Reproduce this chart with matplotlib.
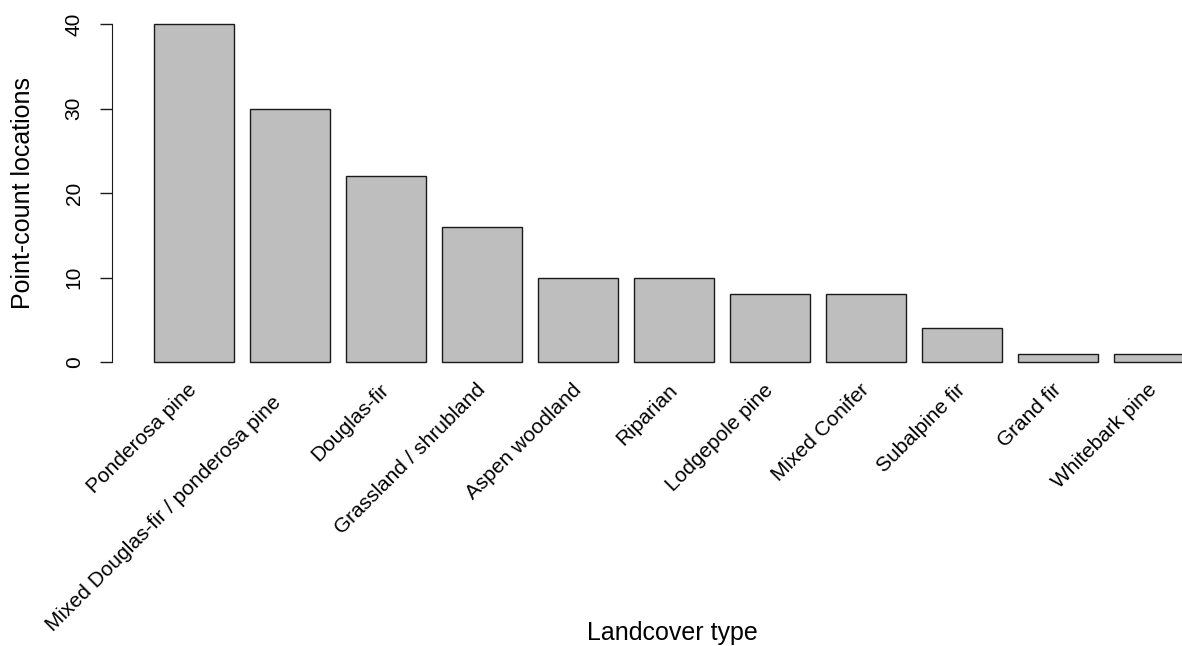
import matplotlib
matplotlib.use('Agg')
import matplotlib.pyplot as plt
import numpy as np

# Landcover types and number of point-count locations per type
landcover = ['Ponderosa pine', 'Mixed Douglas-fir / ponderosa pine   ', 'Douglas-fir',
             'Grassland / shrubland', 'Aspen woodland', 'Riparian', 'Lodgepole pine',
             'Mixed Conifer', 'Subalpine fir', 'Grand fir', 'Whitebark pine']
counts = [40, 30, 22, 16, 10, 10, 8, 8, 4, 1, 1]
y_ticks = [0, 10, 20, 30, 40]

plt.rcParams['font.family'] = ['Liberation Sans', 'DejaVu Sans']

fig = plt.figure(figsize=(11.82, 6.46), dpi=100)
# plot region runs past the right edge of the figure (as in the original)
ax = fig.add_axes([0.0948, 0.4187, 0.951, 0.565])

x = np.arange(len(counts))
ax.bar(x, counts, width=0.8333, color='#bebebe', edgecolor='#1a1a1a', linewidth=1.0)

ax.set_xlim(-0.854, 10.854)
ax.set_ylim(-1.6, 41.6)

for side in ['top', 'right', 'bottom']:
    ax.spines[side].set_visible(False)
ax.spines['left'].set_bounds(0, 40)
ax.spines['left'].set_color('#1a1a1a')

ax.set_yticks(y_ticks)
ax.set_yticklabels([str(v) for v in y_ticks], rotation=90, va='center', ha='center')
ax.tick_params(axis='y', length=8.6, width=1.0, color='#1a1a1a', pad=18.7, labelsize=15)

ax.set_xticks(x)
ax.set_xticklabels(landcover, rotation=45, ha='right', va='center', rotation_mode='anchor')
ax.tick_params(axis='x', length=0, pad=8.3, labelsize=15)

ax.set_ylabel('Point-count locations', fontsize=18, va='center')
ax.yaxis.set_label_coords(-0.0792, 0.5)
ax.set_xlabel('Landcover type', fontsize=18, va='baseline')
ax.xaxis.set_label_coords(0.4982, -0.7247)

fig.savefig('out.png', dpi=100)
